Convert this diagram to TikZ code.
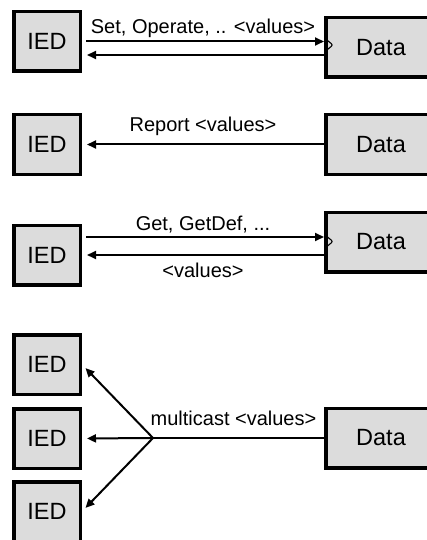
\documentclass[tikz,border=0pt]{standalone}
\usepackage{fontspec}
\setmainfont{Liberation Sans}
\usetikzlibrary{arrows.meta,positioning}
\definecolor{boxGris}{RGB}{220,220,220}

\begin{document}
\begin{tikzpicture}[x=1pt, y=-1pt,
     caja/.style={rectangle, draw=black, line width=3.5pt, fill=boxGris,
                  minimum height=59.5pt, font=\fontsize{23.5}{28}\selectfont},
     ied/.style={caja, minimum width=66.5pt},
     dat/.style={caja, minimum width=110.5pt},
     fl/.style={-{Triangle[length=9pt, width=8pt]}, line width=2pt},
     lbl/.style={anchor=base, inner sep=0pt, font=\fontsize{20}{24}\selectfont},
     muesca/.style={line width=1.1pt, rounded corners=2pt}]
    \useasboundingbox (0,0) rectangle (426,540);
    % fila 1: set / operate
    \node[ied] (i1) at (47,41.5) {IED};
    \node[dat] (d1) at (381,47.5) {Data};
    \draw[fl, shorten <=4pt] (i1.east) -- (d1.west |- i1.east)
      node[lbl, midway, yshift=7.7pt] (l1) {Set, Operate, .. <values>};
    \draw[fl, shorten >=5pt] ([yshift=-7.5pt]d1.west) -- ([yshift=-13.5pt]i1.east);
    \draw[muesca] ([shift={(1pt,9pt)}]d1.west) -- ++(8,6.5) -- ++(-8,6.5);
    % fila 2: report
    \node[ied] (i2) at (47,144.5) {IED};
    \node[dat] (d2) at (381,144.5) {Data};
    \draw[fl, shorten >=5pt] (d2.west) -- (i2.east)
      node[lbl, midway, yshift=13pt] (l2) {Report <values>};
    % fila 3: get
    \node[ied] (i3) at (47,255) {IED};
    \node[dat] (d3) at (381,242) {Data};
    \draw[fl, shorten <=4pt] ([yshift=18pt]i3.east) -- ([yshift=5pt]d3.west)
      node[lbl, midway, yshift=7pt] (l3) {Get, GetDef, ...};
    \draw[fl, shorten >=5pt] ([yshift=-13pt]d3.west) -- (i3.east)
      node[lbl, midway, yshift=-22.3pt] (l4) {<values>};
    \draw[muesca] ([shift={(1pt,7pt)}]d3.west) -- ++(8,6.5) -- ++(-8,6.5);
    % fila 4: multicast
    \node[ied] (i4a) at (47,364.5) {IED};
    \node[ied, below=11pt of i4a] (i4b) {IED};
    \node[ied, below=10pt of i4b] (i4c) {IED};
    \node[dat] (d4) at (381,438) {Data};
    \coordinate (f) at (153,438);
    \draw[line width=2pt] (d4.west) -- (f)
      node[lbl, midway, xshift=-5pt, yshift=13pt] (l5) {multicast <values>};
    \foreach \t in {i4a,i4b,i4c}
      \draw[fl, shorten >=5pt] (f) -- (\t.east);
  \end{tikzpicture}
\end{document}
